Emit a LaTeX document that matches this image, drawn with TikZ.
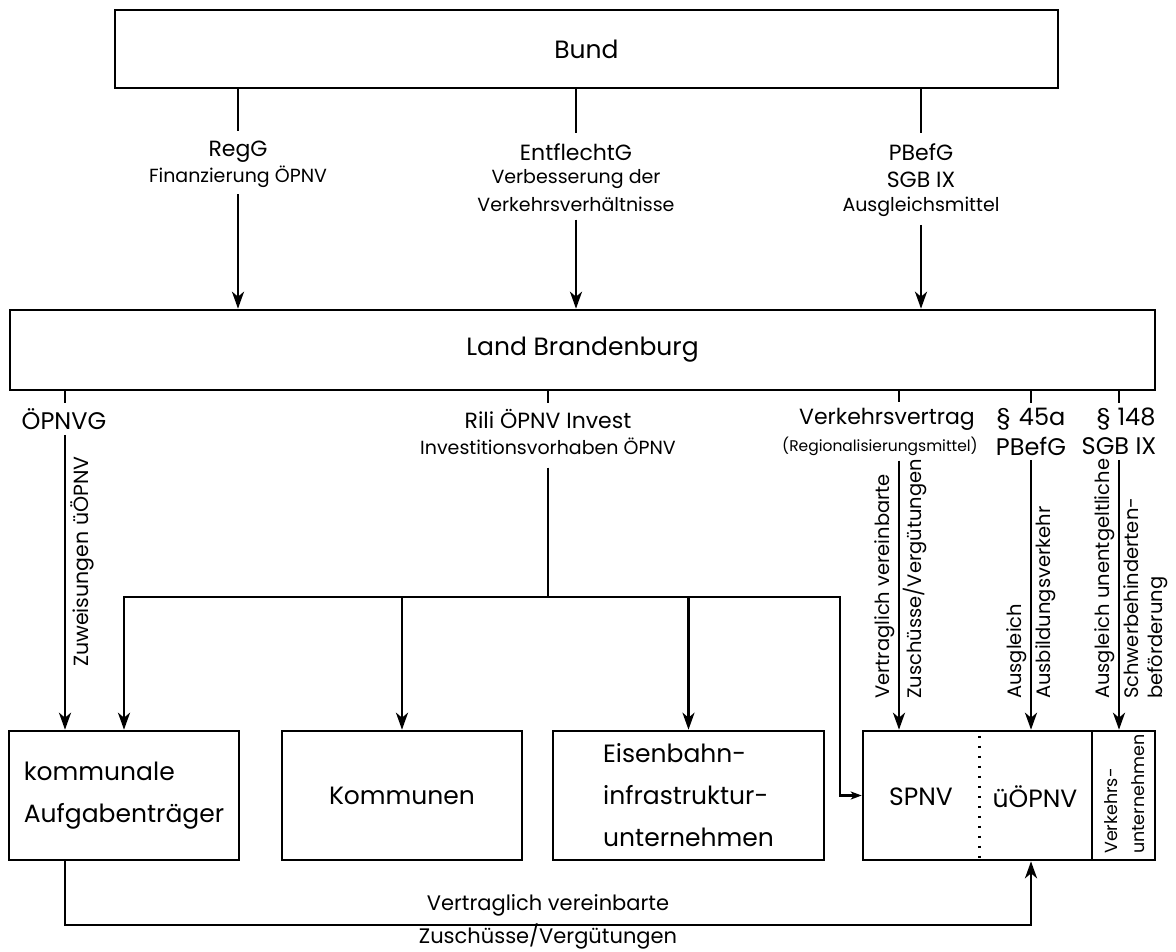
\documentclass[tikz,border=0pt]{standalone}
\usepackage{fontspec}
\setmainfont{Poppins}
\usetikzlibrary{arrows.meta,calc}
\begin{document}
\begin{tikzpicture}[x=1pt,y=-1pt,
  lw/.style={line width=2.6pt},
  box/.style={draw,line width=2.6pt,inner sep=0pt},
  arr/.style={line width=2.6pt,-{Stealth[length=17pt,width=12pt,inset=5pt]}},
  sarr/.style={line width=2.6pt,-{Stealth[length=11pt,width=8pt,inset=3pt]}},
  fbig/.style={font=\fontsize{25}{30}\selectfont},
  ftit/.style={font=\fontsize{22}{26}\selectfont},
  fpar/.style={font=\fontsize{24}{28}\selectfont},
  fsub/.style={font=\fontsize{19}{22}\selectfont},
  ftiny/.style={font=\fontsize{15.5}{18}\selectfont},
  frot/.style={font=\fontsize{19.5}{24.5}\selectfont},
  fbox/.style={font=\fontsize{25}{42}\selectfont},
  lab/.style={inner xsep=1pt,inner ysep=10pt},
  rlab/.style={rotate=90,inner sep=1pt,align=left,frot},
]
\useasboundingbox[fill=white] (0,0) rectangle (1176,951);

% column coordinates
\coordinate (cR) at (238,0);
\coordinate (cE) at (576,0);
\coordinate (cP) at (921,0);
\coordinate (cO) at (65,0);
\coordinate (cI) at (548,0);
\coordinate (cV) at (899,0);
\coordinate (cA) at (1031,0);
\coordinate (cS) at (1119,0);

% main boxes
\node[box,fbig,minimum width=943pt,minimum height=78pt] (bund) at (586.5,49) {Bund};
\node[box,fbig,minimum width=1145pt,minimum height=80pt] (land) at (582.5,350) {Land Brandenburg};

% top labels
\node[lab,ftit] (regg) at (238,152) {RegG};
\node[lab,fsub,inner ysep=6pt] (regg2) at (238,177) {Finanzierung ÖPNV};
\node[lab,ftit] (entf) at (576,152) {EntflechtG};
\node[lab,fsub] (entf2) at (576,179) {Verbesserung der};
\node[lab,fsub,inner ysep=8pt] (entf3) at (576,204) {Verkehrsverhältnisse};
\node[lab,ftit] (pbef) at (921,152) {PBefG};
\node[lab,ftit] (pbef2) at (921,180) {SGB IX};
\node[lab,fsub,inner ysep=8pt] (pbef3) at (921,207) {Ausgleichsmittel};

\draw[lw] (bund.south -| cR) -- (regg.north -| cR);
\draw[arr] (regg2.south -| cR) -- (land.north -| cR);
\draw[lw] (bund.south -| cE) -- (entf.north -| cE);
\draw[arr] (entf3.south -| cE) -- (land.north -| cE);
\draw[lw] (bund.south -| cP) -- (pbef.north -| cP);
\draw[arr] (pbef3.south -| cP) -- (land.north -| cP);

% labels below Land
\node[lab,fpar,inner ysep=5pt] (oepnvg) at (64,419) {ÖPNVG};
\node[lab,ftit,inner ysep=6pt] (rili) at (548,419) {Rili ÖPNV Invest};
\node[lab,fsub,inner ysep=13pt] (rili2) at (548,446) {Investitionsvorhaben ÖPNV};
\node[lab,ftit,inner ysep=6pt] (vv) at (887,419) {Verkehrsvertrag};
\node[lab,ftiny,inner ysep=5pt] (vv2) at (880,446) {(Regionalisierungsmittel)};
\node[lab,fpar,inner ysep=5pt] (p45) at (1031,419) {§\hspace{0.35em}45a};
\node[lab,fpar,inner ysep=5pt] (p452) at (1031,446) {PBefG};
\node[lab,fpar,inner ysep=5pt] (p148) at (1126,419) {§\hspace{0.3em}148};
\node[lab,fpar,inner ysep=5pt] (p1482) at (1119,446) {SGB IX};

% bottom boxes
\node[box,fbox,minimum width=230pt,minimum height=129pt,align=left] (kom) at (124,795.5) {kommunale\\Aufgabenträger};
\node[box,fbox,minimum width=240pt,minimum height=129pt] (komm) at (402,795.5) {Kommunen};
\node[box,fbox,minimum width=271pt,minimum height=129pt,align=left] (eiu) at (688.5,795.5) {Eisenbahn-\\infrastruktur-\\unternehmen};
\node[box,minimum width=292pt,minimum height=129pt] (rb) at (1009,795.5) {};
\node[box,minimum width=63pt,minimum height=129pt] (vu) at (1123.5,795.5) {};
\node[fbox,inner sep=0pt] (spnv) at (921,797) {SPNV};
\node[fbox,inner sep=0pt] (uoe) at (1035,797) {üÖPNV};
\node[rotate=90,align=left,inner sep=0pt,anchor=west,font=\fontsize{17.5}{27}\selectfont] (vut) at (1125,854) {Verkehrs-\\unternehmen};
\coordinate (cD) at (979,0);
\draw[line width=3pt,dash pattern=on 2.5pt off 7.5pt] ([yshift=-6pt]rb.north -| cD) -- (rb.south -| cD);

% ticks below Land
\draw[lw] (land.south -| cO) -- (oepnvg.north -| cO);
\draw[lw] (land.south -| cI) -- (rili.north -| cI);
\draw[lw] (land.south -| cV) -- (vv.north -| cV);
\draw[lw] (land.south -| cA) -- (p45.north -| cA);
\draw[lw] (land.south -| cS) -- (p148.north -| cS);

% ÖPNVG arrow
\draw[arr] (oepnvg.south -| cO) -- (kom.north -| cO);
\node[rlab,anchor=north west,font=\fontsize{20.5}{24}\selectfont] (zuw) at (69,668) {Zuweisungen üÖPNV};

% Rili bus
\coordinate (bus) at (548,597);
\coordinate (turn) at (840,597);
\draw[lw] (rili2.south -| cI) -- (bus);
\draw[arr] (bus) -| (kom.north);
\draw[arr] (bus) -| (komm.north);
\draw[arr] (bus) -| (eiu.north);
\draw[sarr] (bus) -- (turn) |- (rb.west);

% right arrows
\draw[arr] (vv2.south -| cV) -- (rb.north -| cV);
\draw[arr] (p452.south -| cA) -- (rb.north -| cA);
\draw[arr] (p1482.south -| cS) -- (rb.north -| cS);
\node[rlab,anchor=south west] (vvl) at (896,700) {Vertraglich vereinbarte};
\node[rlab,anchor=north west] (vvr) at (902,700) {Zuschüsse/Vergütungen};
\node[rlab,anchor=south west] (p45l) at (1028,700) {Ausgleich};
\node[rlab,anchor=north west] (p45r) at (1034,700) {Ausbildungsverkehr};
\node[rlab,anchor=south west] (p148l) at (1116,700) {Ausgleich unentgeltliche};
\node[rlab,anchor=north west] (p148r) at (1122,700) {Schwerbehinderten-\\beförderung};

% bottom connector
\coordinate (cB) at (65,925);
\draw[arr] (kom.south -| cO) -- (cB) -| (rb.south -| cA);
\node[font=\fontsize{21}{24}\selectfont,inner sep=0pt] (bl1) at (548,905) {Vertraglich vereinbarte};
\node[font=\fontsize{21}{24}\selectfont,inner sep=0pt] (bl2) at (548,936) {Zuschüsse/Vergütungen};
\end{tikzpicture}
\end{document}
